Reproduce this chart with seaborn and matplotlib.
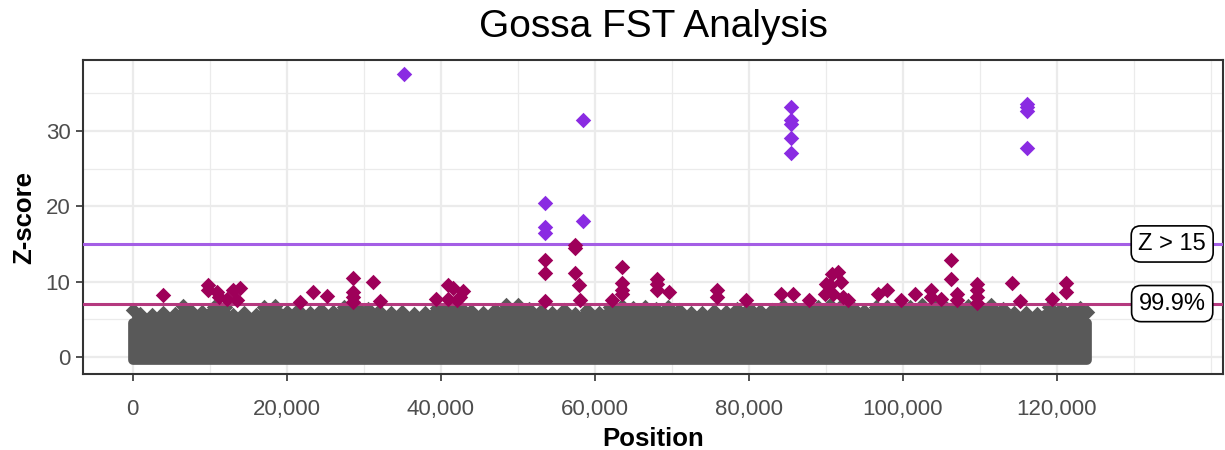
import numpy as np
import pandas as pd
import matplotlib
matplotlib.use("Agg")
import matplotlib.pyplot as plt
import seaborn as sns
from matplotlib.ticker import FuncFormatter, MultipleLocator, FixedLocator

# ---- data ----
# dense background cloud: upper envelope of the grey points (position, z)
grey_pos = [0, 1000, 2500, 4000, 5500, 6500, 7500, 9000, 10500, 12000, 13000, 14500,
            16000, 17000, 18500, 20000, 21500, 23000, 24500, 26000, 27500, 29000,
            30500, 32000, 33500, 35000, 36500, 38000, 39500, 41000, 42500, 44000,
            45500, 47000, 48500, 50000, 51500, 53000, 54500, 56000, 57500, 59000,
            60500, 62000, 63500, 65000, 66500, 68000, 69500, 71000, 72500, 74000,
            75500, 77000, 78500, 80000, 81500, 83000, 84500, 86000, 87500, 89000,
            90500, 92000, 93500, 95000, 96500, 98000, 99500, 101000, 102500, 104000,
            105500, 107000, 108500, 110000, 111500, 113000, 114500, 116000, 117500,
            119000, 120500, 122000, 123000, 123900]
grey_top = [6.3, 5.7, 5.6, 5.8, 5.7, 6.8, 6.2, 6.0, 6.7, 6.6, 5.6, 5.9,
            5.6, 6.7, 6.8, 6.0, 6.2, 5.9, 6.3, 6.0, 6.6, 6.8,
            6.4, 6.1, 5.8, 6.0, 5.7, 5.9, 6.5, 6.7, 6.6, 6.1,
            5.9, 6.2, 6.9, 6.9, 6.4, 6.1, 5.8, 6.2, 5.7, 6.3,
            5.9, 6.6, 6.8, 6.5, 6.7, 6.4, 6.6, 6.3, 5.8, 5.9,
            6.1, 6.0, 6.4, 6.5, 6.1, 6.3, 6.8, 6.5, 6.7, 6.6,
            6.9, 6.8, 6.5, 6.1, 6.6, 6.7, 6.5, 6.6, 6.9, 6.8,
            6.7, 6.9, 6.8, 6.7, 6.9, 6.4, 5.8, 5.9, 5.7,
            6.6, 6.4, 6.2, 6.5, 6.0]
grey_min = -0.36

# points above the 99.9% threshold (below 15)
mid_pos = [3900, 9800, 9800, 10900, 11200, 12200, 13000, 13900, 13500, 21700, 23400, 25200,
           28600, 28600, 28600, 28600, 31200, 32100, 39400, 40900, 41600, 40900, 42900, 42500,
           42100, 53600, 53600, 53600, 57400, 57400, 57400, 58000, 58100, 63600, 63600, 63600,
           63600, 62200, 68100, 68100, 68100, 69700, 75900, 75900, 79700, 84200, 85700, 87800,
           90800, 91600, 92000, 90100, 90600, 89900, 91000, 92200, 92900, 96800, 97900, 99800,
           101600, 103700, 103700, 105000, 106300, 106300, 107000, 107000, 109600, 109600,
           109600, 109600, 114200, 115200, 119400, 121200, 121200]
mid_z = [8.2, 9.6, 8.9, 8.6, 8.0, 7.7, 8.85, 9.1, 7.5, 7.3, 8.6, 8.05,
         10.5, 8.6, 8.0, 7.3, 10.0, 7.4, 7.75, 9.6, 9.1, 7.75, 8.7, 8.0,
         7.5, 12.9, 11.1, 7.4, 14.8, 14.4, 11.1, 9.6, 7.5, 11.9, 9.8, 8.9,
         8.3, 7.5, 10.4, 9.75, 8.85, 8.6, 8.9, 8.0, 7.5, 8.4, 8.4, 7.6,
         11.05, 11.3, 9.95, 9.7, 9.5, 8.4, 8.4, 8.0, 7.5, 8.4, 8.85, 7.5,
         8.4, 8.9, 7.9, 7.75, 12.9, 10.4, 8.4, 7.5, 9.7, 8.85,
         8.0, 7.2, 9.8, 7.4, 7.75, 9.8, 8.6]

# points with Z > 15
high_pos = [35300, 58500, 58500, 53600, 53600, 53600, 85500, 85500, 85500, 85500, 85500,
            116100, 116100, 116100, 116100]
high_z = [37.5, 31.4, 18.0, 20.4, 17.3, 16.5, 33.1, 31.5, 30.9, 29.1, 27.0,
          33.5, 33.1, 32.7, 27.7]

z_cut = 15
q999 = 7.09
label_x = 135000
labels = ["Z > 15", "99.9%"]
x_ticks = [0, 20000, 40000, 60000, 80000, 100000, 120000]

# ---- styling ----
sns.set_theme(style="whitegrid")
plt.rcParams["font.family"] = ["Liberation Sans", "DejaVu Sans"]

GREY = "#595959"
MAG = "#9E0059"
PUR = "#8A2BE2"
PUR_LINE = "#A45EE5"
MAG_LINE = "#B5397F"

fig = plt.figure(figsize=(12.25, 4.5), dpi=100)
ax = fig.add_axes([83 / 1225, 1 - 374 / 450, (1223 - 83) / 1225, (374 - 60) / 450])
ax.set_facecolor("white")

# grey cloud: body (thick outline widens it by the marker radius on sides/bottom)
ax.fill_betweenx([grey_min, 4.5], grey_pos[0], grey_pos[-1],
                 color=GREY, linewidth=7, edgecolor=GREY, joinstyle="round", zorder=1.9)
# upper, ragged part of the cloud
ax.fill_between(grey_pos, 0, grey_top, color=GREY, linewidth=1.5,
                edgecolor=GREY, zorder=2)
grey_df = pd.DataFrame({"Position": grey_pos, "Z": grey_top})
sns.scatterplot(data=grey_df, x="Position", y="Z", ax=ax, color=GREY, marker="D",
                s=62, linewidth=0, zorder=2)

# threshold lines
ax.axhline(z_cut, color=PUR_LINE, linewidth=2.2, zorder=3)
ax.axhline(q999, color=MAG_LINE, linewidth=2.2, zorder=3)

mid_df = pd.DataFrame({"Position": mid_pos, "Z": mid_z})
high_df = pd.DataFrame({"Position": high_pos, "Z": high_z})
sns.scatterplot(data=mid_df, x="Position", y="Z", ax=ax, color=MAG, marker="D",
                s=62, linewidth=0, zorder=4)
sns.scatterplot(data=high_df, x="Position", y="Z", ax=ax, color=PUR, marker="D",
                s=62, linewidth=0, zorder=4)

for txt, yv in zip(labels, [z_cut, q999]):
    ax.text(label_x, yv, txt, ha="center", va="center", fontsize=17, color="black",
            zorder=6,
            bbox=dict(boxstyle="round,pad=0.3,rounding_size=0.4", fc="white",
                      ec="black", lw=1.2))

ax.set_xlim(-6450, 141600)
ax.set_ylim(-2.25, 39.4)
ax.xaxis.set_major_locator(FixedLocator(x_ticks))
ax.xaxis.set_minor_locator(MultipleLocator(10000))
ax.yaxis.set_major_locator(MultipleLocator(10))
ax.yaxis.set_minor_locator(MultipleLocator(5))
ax.xaxis.set_major_formatter(FuncFormatter(lambda v, p: f"{int(v):,}"))

ax.grid(which="major", color="#EBEBEB", linewidth=1.6)
ax.grid(which="minor", color="#EBEBEB", linewidth=0.9)
ax.set_axisbelow(True)
for sp in ax.spines.values():
    sp.set_color("#333333")
    sp.set_linewidth(1.5)

ax.tick_params(axis="x", which="major", pad=13)
ax.tick_params(axis="y", which="major", pad=4)
ax.tick_params(axis="both", which="major", length=5, width=1.2, color="#333333",
               labelsize=16, labelcolor="#4D4D4D", bottom=True, left=True)
ax.tick_params(axis="both", which="minor", length=0)

ax.set_xlabel("Position", fontsize=18.5, fontweight="bold", color="black", labelpad=5)
ax.set_ylabel("Z-score", fontsize=18.5, fontweight="bold", color="black", labelpad=7)
ax.set_title("Gossa FST Analysis", fontsize=28, color="black", pad=16.5)

fig.savefig("out.png", dpi=100, facecolor="white")
